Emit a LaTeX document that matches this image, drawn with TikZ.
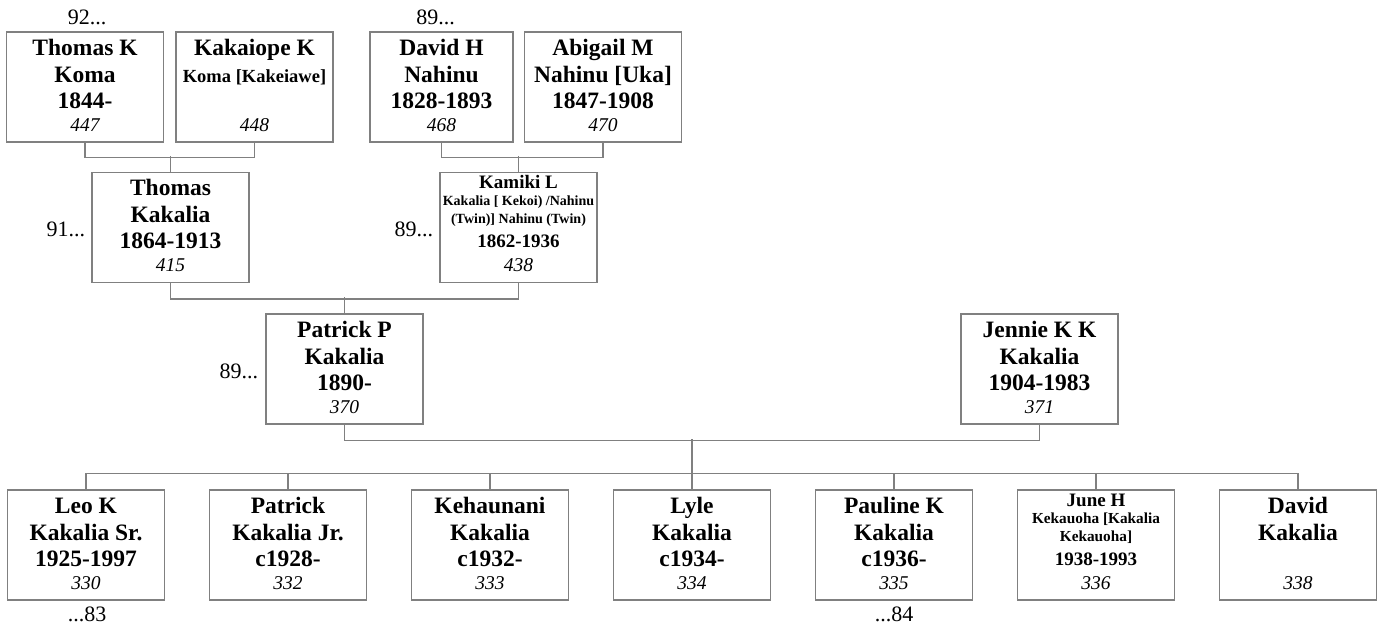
\documentclass[tikz,border=0pt]{standalone}
\usepackage{fontspec}
\setmainfont{Liberation Serif}
\definecolor{linegray}{RGB}{128,128,128}
\tikzset{
  card/.style={draw=linegray, line width=1.2pt, minimum width=157pt, minimum height=110pt, inner sep=0pt},
  link/.style={draw=linegray, line width=1.2pt},
  bigline/.style={anchor=base, inner sep=0pt, font=\bfseries\fontsize{23.5}{26}\selectfont},
  midline/.style={anchor=base, inner sep=0pt, font=\bfseries\fontsize{19}{21}\selectfont},
  smallline/.style={anchor=base, inner sep=0pt, font=\bfseries\fontsize{14}{16}\selectfont},
  idnum/.style={anchor=base, inner sep=0pt, font=\itshape\fontsize{19.5}{21}\selectfont},
  more/.style={inner sep=0pt, font=\fontsize{22}{24}\selectfont},
}
% one person: name, centre, three lines, number
\newcommand\card[7][]{%
  \node[card,#1] (#2) at (#3) {};
  \node[bigline] (#2-a) at ([yshift=-24pt]#2.north) {#4};
  \node[bigline] (#2-b) at ([yshift=-51pt]#2.north) {#5};
  \node[bigline] (#2-c) at ([yshift=-77pt]#2.north) {#6};
  \node[idnum] (#2-n) at ([yshift=-100pt]#2.north) {#7};
}
% person with a long name in small print
\newcommand\cardfine[7]{%
  \node[card] (#1) at (#2) {};
  \node[midline] (#1-a) at ([yshift=-17pt]#1.north) {#3};
  \node[smallline] (#1-b) at ([yshift=-34pt]#1.north) {#4};
  \node[smallline] (#1-c) at ([yshift=-52pt]#1.north) {#5};
  \node[midline] (#1-d) at ([yshift=-76pt]#1.north) {#6};
  \node[idnum] (#1-n) at ([yshift=-100pt]#1.north) {#7};
}
\begin{document}
\begin{tikzpicture}[x=1pt,y=-1pt]
    \useasboundingbox (0,0) rectangle (1382,628);
    % grandparents
    \card{tk}{85,87}{Thomas K}{Koma}{1844-}{447}
    \card{kk}{254.5,87}{Kakaiope K}{\fontsize{18.5}{20}\selectfont Koma [Kakeiawe]}{}{448}
    \card[minimum width=143pt]{dh}{441.5,87}{David H}{Nahinu}{1828-1893}{468}
    \card{na}{603,87}{Abigail M}{Nahinu [Uka]}{1847-1908}{470}
    % parents
    \card{tkk}{170.5,227.5}{Thomas}{Kakalia}{1864-1913}{415}
    \cardfine{km}{518.5,227.5}{Kamiki L}{Kakalia [ Kekoi) /Nahinu}{(Twin)] Nahinu (Twin)}{1862-1936}{438}
    \card{pp}{344.5,369}{Patrick P}{Kakalia}{1890-}{370}
    \card{jk}{1039.5,369}{Jennie K K}{Kakalia}{1904-1983}{371}
    % children
    \card{leo}{86,545}{Leo K}{Kakalia Sr.}{1925-1997}{330}
    \card{pj}{288,545}{Patrick}{Kakalia Jr.}{c1928-}{332}
    \card{ke}{490,545}{Kehaunani}{Kakalia}{c1932-}{333}
    \card{ly}{692,545}{Lyle}{Kakalia}{c1934-}{334}
    \card{pk}{894,545}{Pauline K}{Kakalia}{c1936-}{335}
    \cardfine{jh}{1096,545}{June H}{\fontsize{15.3}{17}\selectfont Kekauoha [Kakalia}{\fontsize{15.3}{17}\selectfont Kekauoha]}{1938-1993}{336}
    \card{dk}{1298,545}{David}{Kakalia}{}{338}

    % couples and their children
    \draw[link] (tk.south) -- ++(0,15) -| (kk.south);
    \draw[link] (tkk.north) -- ++(0,-15.5);
    \draw[link] (dh.south) -- ++(0,15) -| (na.south);
    \draw[link] (km.north) -- ++(0,-15.5);
    \draw[link] (tkk.south) -- ++(0,16) -| (km.south);
    \draw[link] (pp.north) -- ++(0,-16);
    \draw[link] (pp.south) -- ++(0,16) -| (jk.south);
    \draw[link] (ly.north) -- ++(0,-50);
    \draw[link] ([yshift=16pt]leo.north) -- ([yshift=16pt]dk.north);
    \foreach \kid in {leo,pj,ke,ly,pk,jh,dk}
        \draw[link] (\kid.north) -- ++(0,-16);

    % more generations
    \node[more, anchor=base] (up-tk) at ([xshift=2pt,yshift=7pt]tk.north) {92...};
    \node[more, anchor=base] (up-dh) at ([xshift=-6pt,yshift=7pt]dh.north) {89...};
    \node[more, anchor=base east] (up-tkk) at ([xshift=-6pt,yshift=-9pt]tkk.west) {91...};
    \node[more, anchor=base east] (up-km) at ([xshift=-6pt,yshift=-9pt]km.west) {89...};
    \node[more, anchor=base east] (up-pp) at ([xshift=-7pt,yshift=-9pt]pp.west) {89...};
    \node[more, anchor=base] (dn-leo) at ([xshift=1pt,yshift=-21pt]leo.south) {...83};
    \node[more, anchor=base] (dn-pk) at ([yshift=-21pt]pk.south) {...84};
\end{tikzpicture}
\end{document}
